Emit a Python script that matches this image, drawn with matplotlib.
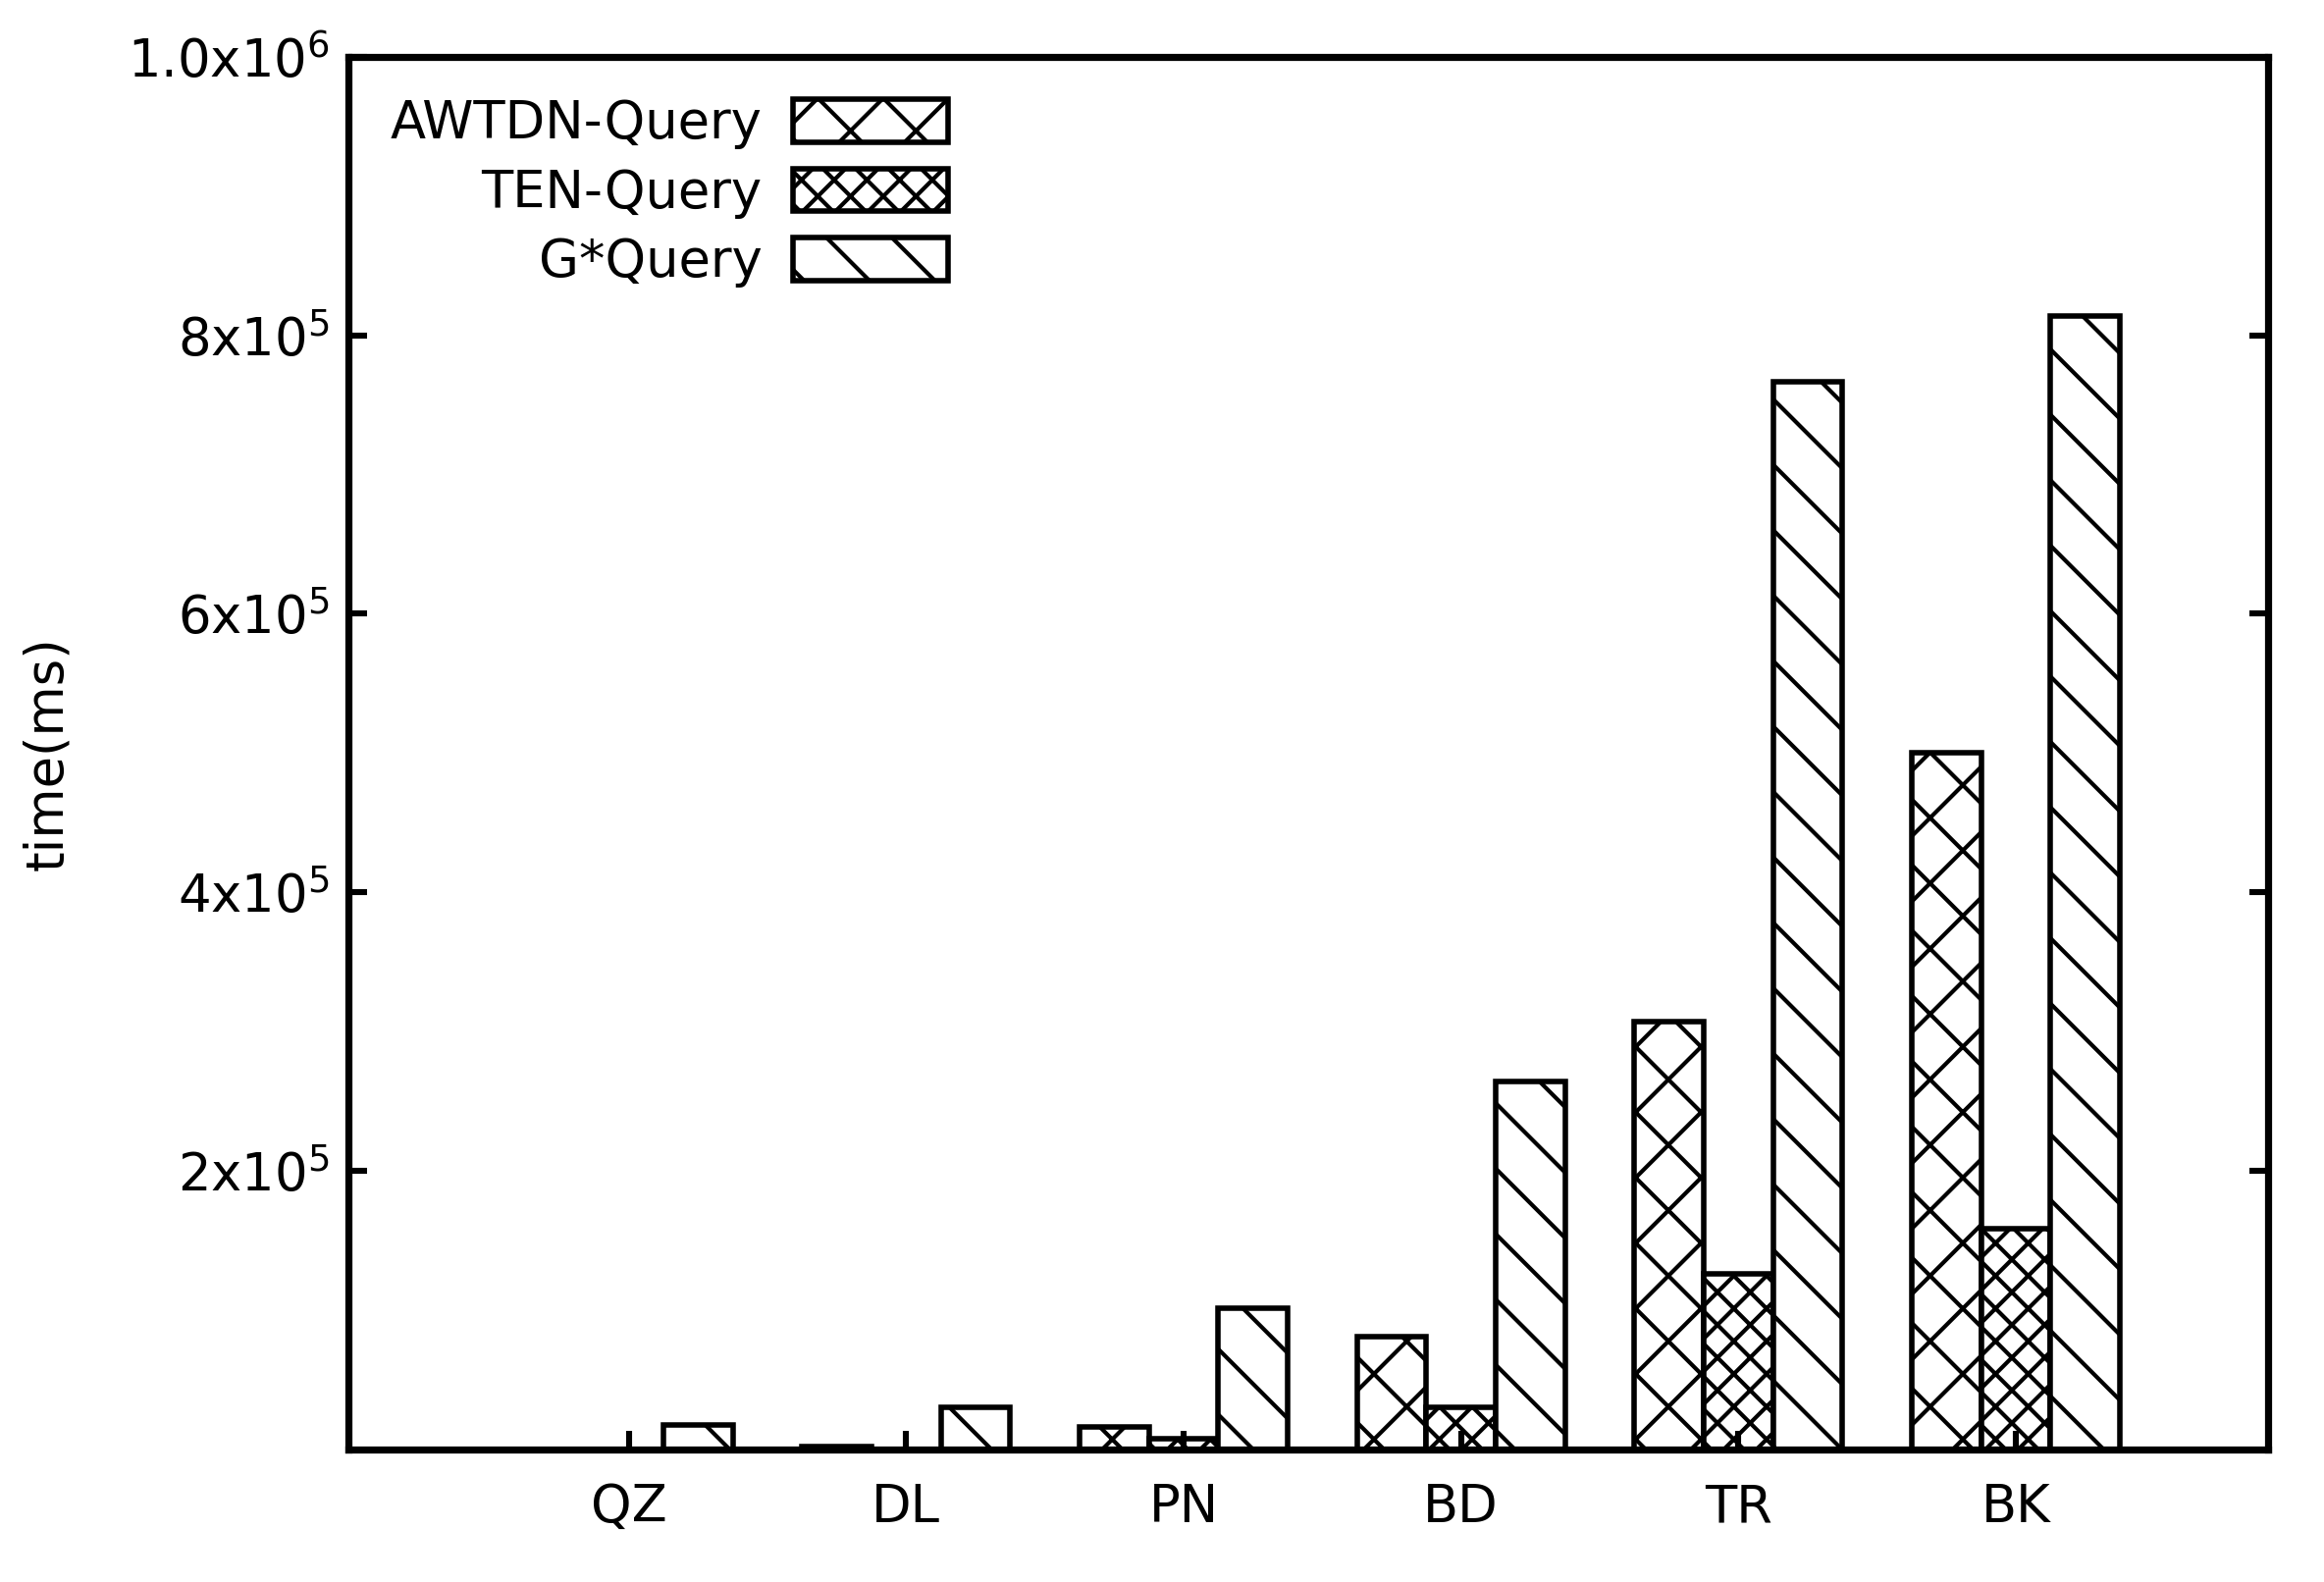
import matplotlib
matplotlib.use("Agg")
import matplotlib.pyplot as plt
import numpy as np

categories = ["QZ", "DL", "PN", "BD", "TR", "BK"]
awtdn = [0, 2000, 16000, 81000, 307000, 500000]
ten = [0, 0, 7500, 30000, 126000, 158000]
gstar = [17000, 30000, 101000, 264000, 767000, 814000]

plt.rcParams["hatch.linewidth"] = 1.5
plt.rcParams["font.family"] = ["DejaVu Sans"]
fig = plt.figure(figsize=(11.84, 8.06), dpi=200)
ax = fig.add_axes([0.150, 0.084, 0.826, 0.880])
x = np.arange(len(categories))
w = 0.25
kw = dict(width=w, color="white", edgecolor="black", linewidth=2.0)
ax.bar(x - w, awtdn, hatch="x", label="AWTDN-Query", **kw)
ax.bar(x, ten, hatch="xx", label="TEN-Query", **kw)
ax.bar(x + w, gstar, hatch="\\", label="G*Query", **kw)

ax.set_xlim(-1.01, 5.91)
ax.set_ylim(0, 1e6)
ax.set_xticks(x)
ax.set_xticklabels(categories, fontsize=19)
yt = [2e5, 4e5, 6e5, 8e5, 1e6]
ax.set_yticks(yt)
ax.set_yticklabels([r"2x10$^5$", r"4x10$^5$", r"6x10$^5$", r"8x10$^5$", r"1.0x10$^6$"], fontsize=19)
ax.tick_params(axis="both", direction="in", length=7, width=2.2, right=True, pad=7)
ax.tick_params(axis="x", pad=12)
for s in ax.spines.values():
    s.set_linewidth(2.6)
ax.set_ylabel("time(ms)", fontsize=19, labelpad=20)
leg = ax.legend(loc="upper left", markerfirst=False, frameon=False, fontsize=19,
                handlelength=3.0, handleheight=0.9, borderaxespad=0.6,
                labelspacing=0.35, handletextpad=0.6, borderpad=0.2)
fig.savefig("out.png", dpi=200)
